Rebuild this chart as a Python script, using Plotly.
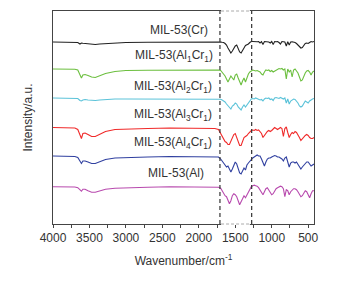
import plotly.graph_objects as go

# Shared wavenumber grid (cm^-1)
wavenumber = [4000, 3850, 3700, 3660, 3630, 3610, 3590, 3560, 3520, 3470,
              3420, 3360, 3280, 3150, 3000, 2700, 2400, 2100, 1900, 1780,
              1730, 1700, 1680, 1660, 1640, 1620, 1600, 1580, 1560, 1540,
              1520, 1500, 1480, 1460, 1440, 1420, 1400, 1380, 1360, 1340,
              1320, 1300, 1280, 1260, 1240, 1220, 1200, 1180, 1160, 1140,
              1120, 1100, 1080, 1060, 1040, 1020, 1000, 980, 960, 940,
              920, 900, 880, 860, 840, 820, 800, 780, 760, 740,
              720, 700, 680, 660, 640, 620, 600, 580, 560, 540,
              520, 500, 480, 460, 440, 420]

# Spectra (relative intensity, a.u.)
cr = [0, 0, 0, -0.5, -2, -1, -1.2, -1.5, -2, -2.5,
      -2.5, -2, -1.5, -1, -0.5, -0.3, 0, 0, 0, 0,
      0, 0, -0.3, -0.5, -1.5, -3, -6, -9, -11, -9,
      -6, -4, -3, -6, -10, -11, -9, -6, -3.5, -3,
      -2, -0.5, 0.5, 0.5, 0.3, 0.5, 0.3, 0.5, -1, 0.3,
      -2.5, 0.5, 0.3, 0.5, 0, -1, 0.5, -2.5, 0.5, 0.3,
      0.5, -0.5, -2, 0.5, 0.3, 0, -4, 0.3, -3, 0,
      0.3, 0, -0.5, -1.5, -3, -5, -6, -5.5, -3, -1.5,
      -1, -1.5, -0.5, 0.5, 0, 0.5]

al1cr1 = [0, 0, -0.3, -1, -6, -9, -6, -5.5, -6.5, -8,
          -8.5, -7, -4.5, -2.5, -1.5, -1.2, -1, -1, -1, -1,
          -1, -1.5, -3, -5, -7, -10, -13, -10, -7, -9,
          -11, -6, -5, -9, -13, -16, -12, -9, -13, -8,
          -5, -3, -2, -1, -1.5, -2, -1.5, -2.5, -3, -5,
          -6, -3, -1, -1.5, -1, -2.5, -1.5, -3, -2, -1,
          -0.5, 0.5, 0, 0.5, -1, 0, -10, 0, -3, -1,
          -8, -1, 0, -2, -4, -8, -12, -11, -7, -4,
          -2, -1.5, -3, -6, -3, -2]

al2cr1 = [0, 0, 0, -0.5, -2.5, -3, -2, -1.5, -2, -2.5,
          -2.5, -2, -1.5, -1, -1, -1, -1, -1, -1, -1,
          -1, -1.2, -2, -3, -4, -6, -8, -10, -11, -8,
          -7, -5, -6, -9, -11, -12, -9, -7, -9, -7,
          -5, -2.5, -1, -0.5, -1, 0, -0.5, -1, -2, -1.5,
          -3, -1, 0, -0.5, 0, -1.5, -1, -2.5, 0, 0.5,
          0, -0.5, 0.5, 0, -1, 0, -5, -1, -6, -3,
          -2, -1, -1.5, -3, -5, -8, -9, -8, -5, -3,
          -4, -5, -3, -1.5, -1, -0.5]

al3cr1 = [0, 0, -0.5, -2, -8, -11, -6, -5.5, -7, -9,
          -9, -7, -4, -2, -1.5, -1, -0.5, -0.5, -0.5, -1,
          -2, -6, -9, -12, -14, -15, -17, -17, -14, -10,
          -7, -6, -10, -15, -18, -18, -14, -10, -9, -8,
          -6, -4, -3, -2.5, -3, -2, -3, -2.5, -4, -6,
          -10, -8, -5, -4, -3, -4, -3, -1, 0, -1,
          -2, -1, 0, -1, -9, -1, 0.5, -5, -10, -7,
          -5, -6, -4, -5, -7, -10, -13, -11, -9, -8,
          -7, -8, -10, -11, -11, -10]

al4cr1 = [0, 0, -0.5, -1.5, -5, -7.5, -5, -5, -6, -7.5,
          -7.5, -6, -3.5, -2, -1.5, -1, -0.5, -0.5, -0.5, -0.5,
          -1, -3, -5, -7, -10, -11, -10, -13, -16, -13,
          -9, -6, -8, -13, -17, -18, -14, -12, -14, -9,
          -7, -5, -4, -2, -1, 0, 1, 0, 0, -3,
          -6, -10, -6, -3, -2, -2, -1, 0, 0.5, 0,
          -1, -1, -2, -3, -5, -2, -1, -5, -11, -7,
          -6, -6, -7, -6, -8, -11, -13, -11, -9, -7,
          -6, -6, -8, -10, -9, -8]

al = [0, 0, -0.3, -1, -3, -4.5, -2.5, -2.5, -4, -5.5,
      -5.5, -4, -2.5, -1.5, -1, -0.5, 0, 0, 0, 0,
      -0.5, -1.5, -4, -7, -9, -10, -14, -17, -14, -9,
      -7, -8, -10, -14, -18, -15, -11, -9, -11, -8,
      -5, -2, 0, 1, 1.5, 1, 0.5, -1, -3, -6,
      -8, -5, -2, -1, -3, -6, -8, -7, -4, -2,
      -1, 0, 0.5, 0, -2, -10, -3, -4, -8, -5,
      -3, -2, -2, -3, -5, -8, -10, -9, -6, -4,
      -5, -8, -11, -7, -4, -4]

names = ["MIL-53(Cr)", "MIL-53(Al<sub>1</sub>Cr<sub>1</sub>)",
         "MIL-53(Al<sub>2</sub>Cr<sub>1</sub>)", "MIL-53(Al<sub>3</sub>Cr<sub>1</sub>)",
         "MIL-53(Al<sub>4</sub>Cr<sub>1</sub>)", "MIL-53(Al)"]
spectra = [cr, al1cr1, al2cr1, al3cr1, al4cr1, al]
offsets = [182, 155, 126, 96.5, 68, 37.3]
colors = ["#222222", "#6cbf3f", "#5cc3d9", "#f02a2a", "#3040a0", "#b84aae"]
label_x = [2275, 2343, 2357, 2357, 2357, 2316]
label_y = [194, 168, 137, 109, 81, 51]

x_ticks = [4000, 3500, 3000, 2500, 2000, 1500, 1000, 500]
dashed_x = [1710, 1275]

fig = go.Figure()
for name, s, off, c in zip(names, spectra, offsets, colors):
    fig.add_trace(go.Scatter(x=wavenumber, y=[off + v for v in s], mode="lines",
                             line=dict(color=c, width=1.1), name=name,
                             showlegend=False, hoverinfo="skip"))

for name, lx, ly in zip(names, label_x, label_y):
    fig.add_annotation(x=lx, y=ly, text=name, showarrow=False,
                       font=dict(size=12, color="#333333"), xanchor="center", yanchor="middle")

for dx in dashed_x:
    fig.add_shape(type="line", x0=dx, x1=dx, y0=0, y1=1, xref="x", yref="paper",
                  line=dict(color="#333333", width=1.2, dash="4px,3px"))
for yy in [0, 1]:
    fig.add_shape(type="line", x0=dashed_x[0] - 15, x1=dashed_x[1] + 25, y0=yy, y1=yy,
                  xref="x", yref="paper", line=dict(color="white", width=2))
    fig.add_shape(type="line", x0=dashed_x[0] - 15, x1=dashed_x[1] + 25, y0=yy, y1=yy,
                  xref="x", yref="paper", line=dict(color="#aaaaaa", width=1, dash="3px,2px"))

# page body has an 8px margin, so the figure is sized/margined to compensate
fig.update_layout(
    width=344, height=273,
    margin=dict(l=45, r=38, t=3, b=57),
    paper_bgcolor="white", plot_bgcolor="white",
    font=dict(family="Liberation Sans, Arial, sans-serif", color="#333333", size=12),
    xaxis=dict(range=[4000, 420], tickvals=x_ticks, ticks="outside", ticklen=3,
               tickcolor="#444444", showline=True, linecolor="#444444", linewidth=1,
               mirror=True, showgrid=False, zeroline=False, automargin=False,
               minor=dict(dtick=250, ticks="outside", ticklen=3, tickcolor="#444444"),
               tickfont=dict(size=12, color="#333333"),
               title=dict(text="Wavenumber/cm<sup>-1</sup>", font=dict(size=12, color="#333333"),
                          standoff=12)),
    yaxis=dict(range=[0, 213], showticklabels=False, ticks="", showline=True,
               linecolor="#444444", linewidth=1, mirror=True, showgrid=False, zeroline=False,
               automargin=False,
               title=dict(text="Intensity/a.u.", font=dict(size=12, color="#333333"),
                          standoff=16)),
)

fig.write_html("out.html")
